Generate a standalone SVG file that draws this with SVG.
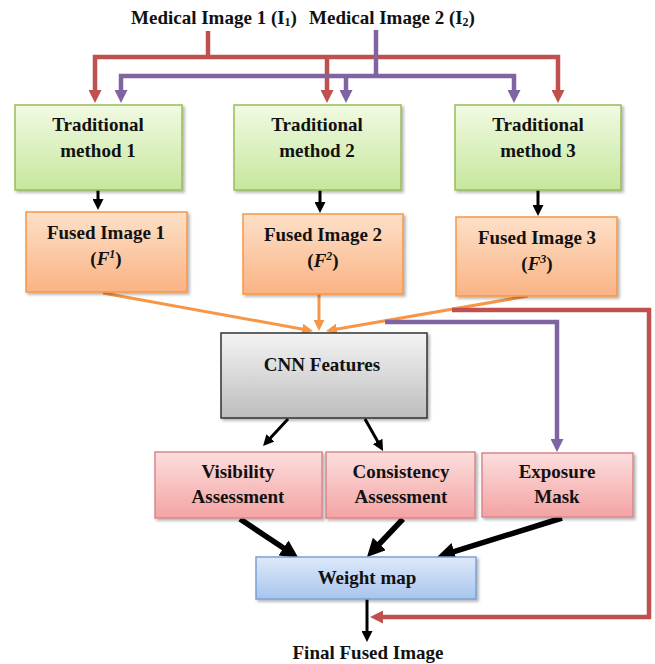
<svg xmlns="http://www.w3.org/2000/svg" width="655" height="664" viewBox="0 0 655 664">
<style>
text{font-family:"Liberation Serif","Times New Roman",serif;font-weight:bold;font-size:19px;fill:#111;text-anchor:middle}
.bx{filter:url(#sh)}
.red{fill:none;stroke:#c0504d;stroke-width:4.5}
.pur{fill:none;stroke:#8064a2;stroke-width:4.5}
.org{fill:none;stroke:#f79646;stroke-width:3}
.blk{fill:none;stroke:#000;stroke-width:3}
.blkT{fill:none;stroke:#000;stroke-width:5.5}
</style>
<defs>
<filter id="sh" x="-10%" y="-10%" width="130%" height="130%"><feDropShadow dx="2" dy="2" stdDeviation="1.5" flood-color="#000" flood-opacity="0.3"/></filter>
<linearGradient id="gG" x1="0" y1="0" x2="0" y2="1"><stop offset="0" stop-color="#f1fae3"/><stop offset="1" stop-color="#c6e79c"/></linearGradient>
<linearGradient id="gO" x1="0" y1="0" x2="0" y2="1"><stop offset="0" stop-color="#fde0c8"/><stop offset="1" stop-color="#fab384"/></linearGradient>
<linearGradient id="gC" x1="0" y1="0" x2="0" y2="1"><stop offset="0" stop-color="#f4f4f4"/><stop offset="1" stop-color="#bdbdbd"/></linearGradient>
<linearGradient id="gR" x1="0" y1="0" x2="0" y2="1"><stop offset="0" stop-color="#fcdede"/><stop offset="1" stop-color="#f4a3a3"/></linearGradient>
<linearGradient id="gB" x1="0" y1="0" x2="0" y2="1"><stop offset="0" stop-color="#dde9f9"/><stop offset="1" stop-color="#a8c5ee"/></linearGradient>
<marker id="aR" viewBox="0 0 10 10" refX="2" refY="5" markerWidth="13" markerHeight="13" markerUnits="userSpaceOnUse" orient="auto"><path d="M0,0 L10,5 L0,10 z" fill="#c0504d"/></marker>
<marker id="aP" viewBox="0 0 10 10" refX="2" refY="5" markerWidth="13" markerHeight="13" markerUnits="userSpaceOnUse" orient="auto"><path d="M0,0 L10,5 L0,10 z" fill="#8064a2"/></marker>
<marker id="aO" viewBox="0 0 10 10" refX="2" refY="5" markerWidth="11" markerHeight="11" markerUnits="userSpaceOnUse" orient="auto"><path d="M0,0 L10,5 L0,10 z" fill="#f79646"/></marker>
<marker id="aK" viewBox="0 0 10 10" refX="2" refY="5" markerWidth="11" markerHeight="11" markerUnits="userSpaceOnUse" orient="auto"><path d="M0,0 L10,5 L0,10 z" fill="#000"/></marker>
<marker id="aKT" viewBox="0 0 10 10" refX="2" refY="5" markerWidth="18" markerHeight="18" markerUnits="userSpaceOnUse" orient="auto"><path d="M0,0 L10,5 L0,10 z" fill="#000"/></marker>
</defs>
<rect width="655" height="664" fill="#fff"/>

<g id="title">
<text x="214" y="24">Medical Image 1 (I<tspan font-size="12" dy="2">1</tspan><tspan dy="-2">)</tspan></text>
<text x="392" y="24">Medical Image 2 (I<tspan font-size="12" dy="2">2</tspan><tspan dy="-2">)</tspan></text>
</g>

<g id="connectors">
<path class="red" d="M208,31 V57 M93,57 H560"/>
<path class="red" d="M95,55 V92.6" marker-end="url(#aR)"/>
<path class="red" d="M327,55 V92.6" marker-end="url(#aR)"/>
<path class="red" d="M558,55 V92.6" marker-end="url(#aR)"/>
<path class="pur" d="M376,30 V76 M119,76 H516"/>
<path class="pur" d="M121,74 V92.6" marker-end="url(#aP)"/>
<path class="pur" d="M346,74 V92.6" marker-end="url(#aP)"/>
<path class="pur" d="M514,74 V92.6" marker-end="url(#aP)"/>
<path class="blk" d="M98,190 V201.2" marker-end="url(#aK)"/>
<path class="blk" d="M320,190 V204.2" marker-end="url(#aK)"/>
<path class="blk" d="M538,190 V207.2" marker-end="url(#aK)"/>
<path class="org" d="M103,293 L304.3,329.4" marker-end="url(#aO)"/>
<path class="org" d="M319,294 V322.2" marker-end="url(#aO)"/>
<path class="org" d="M528,296 L334.7,329.5" marker-end="url(#aO)"/>
<path class="pur" d="M385,322 H557 V441.6" marker-end="url(#aP)"/>
<path class="red" d="M452,310 H649 V617 H380.4" marker-end="url(#aR)"/>
<path class="blk" d="M288,419 L269,439.5" marker-end="url(#aK)"/>
<path class="blk" d="M365,419 L378.7,443.3" marker-end="url(#aK)"/>
<path class="blkT" d="M240,519 L286.5,550" marker-end="url(#aKT)"/>
<path class="blkT" d="M403,519 L376.9,546.5" marker-end="url(#aKT)"/>
<path class="blkT" d="M562,518 L450.75,552.7" marker-end="url(#aKT)"/>
<path class="blk" d="M367,599 V633.2" marker-end="url(#aK)"/>
</g>

<g id="trad1"><rect class="bx" x="15" y="105" width="167" height="85" fill="url(#gG)" stroke="#9bbb59" stroke-width="1.5"/><text x="98" y="131">Traditional</text><text x="98" y="157">method 1</text></g>
<g id="trad2"><rect class="bx" x="234" y="105" width="167" height="85" fill="url(#gG)" stroke="#9bbb59" stroke-width="1.5"/><text x="317" y="131">Traditional</text><text x="317" y="157">method 2</text></g>
<g id="trad3"><rect class="bx" x="455" y="105" width="166" height="85" fill="url(#gG)" stroke="#9bbb59" stroke-width="1.5"/><text x="538" y="131">Traditional</text><text x="538" y="157">method 3</text></g>

<g id="fused1"><rect class="bx" x="26" y="212" width="161" height="80" fill="url(#gO)" stroke="#f79646" stroke-width="1.5"/><text x="106" y="239">Fused Image 1</text><text x="106" y="265">(<tspan font-style="italic">F</tspan><tspan font-style="italic" font-size="12" dy="-7">1</tspan><tspan dy="7">)</tspan></text></g>
<g id="fused2"><rect class="bx" x="243" y="214" width="160" height="80" fill="url(#gO)" stroke="#f79646" stroke-width="1.5"/><text x="323" y="241">Fused Image 2</text><text x="323" y="267">(<tspan font-style="italic">F</tspan><tspan font-style="italic" font-size="12" dy="-7">2</tspan><tspan dy="7">)</tspan></text></g>
<g id="fused3"><rect class="bx" x="456" y="217" width="161" height="79" fill="url(#gO)" stroke="#f79646" stroke-width="1.5"/><text x="537" y="244">Fused Image 3</text><text x="537" y="270">(<tspan font-style="italic">F</tspan><tspan font-style="italic" font-size="12" dy="-7">3</tspan><tspan dy="7">)</tspan></text></g>

<g id="cnn"><rect class="bx" x="221" y="333" width="206" height="85" fill="url(#gC)" stroke="#333" stroke-width="1.5"/><text x="322" y="371">CNN Features</text></g>

<g id="visibility"><rect class="bx" x="155" y="452" width="167" height="66" fill="url(#gR)" stroke="#d9868a" stroke-width="1.5"/><text x="238" y="478">Visibility</text><text x="238" y="503">Assessment</text></g>
<g id="consistency"><rect class="bx" x="326" y="452" width="149" height="66" fill="url(#gR)" stroke="#d9868a" stroke-width="1.5"/><text x="401" y="478">Consistency</text><text x="401" y="503">Assessment</text></g>
<g id="exposure"><rect class="bx" x="482" y="453" width="151" height="64" fill="url(#gR)" stroke="#d9868a" stroke-width="1.5"/><text x="557" y="478">Exposure</text><text x="557" y="503">Mask</text></g>

<g id="weightmap"><rect class="bx" x="256" y="557" width="220" height="42" fill="url(#gB)" stroke="#7ba0d4" stroke-width="1.5"/><text x="367" y="584">Weight map</text></g>

<g id="final"><text x="368" y="659">Final Fused Image</text></g>
</svg>
